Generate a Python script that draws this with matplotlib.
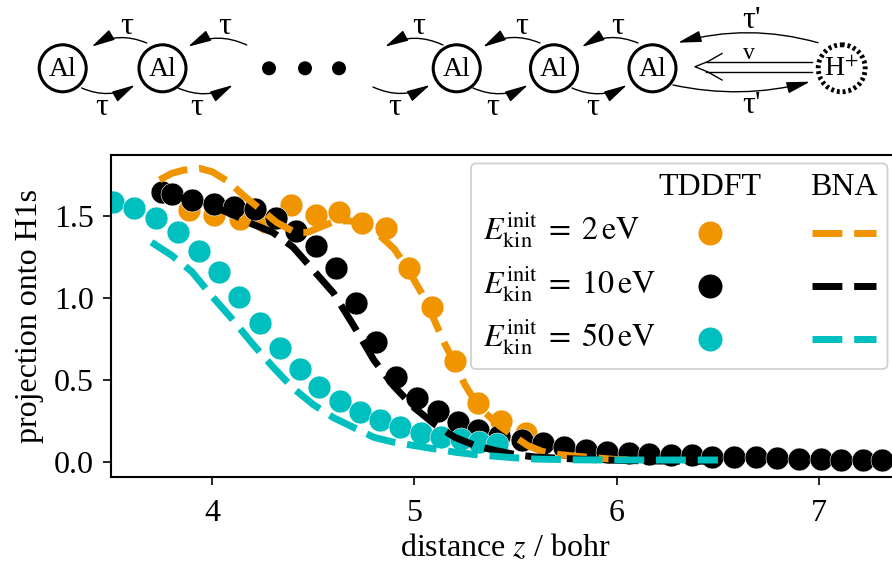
import matplotlib
matplotlib.use("Agg")
import matplotlib.pyplot as plt
from matplotlib.patches import Circle, FancyArrowPatch, FancyBboxPatch

plt.rcParams['font.family'] = ['Liberation Serif', 'DejaVu Serif']
plt.rcParams['mathtext.fontset'] = 'stix'
plt.rcParams['font.size'] = 23

ORANGE = '#f09500'
BLACK = 'black'
CYAN = '#00bfbf'

# TDDFT projection onto H1s, one array per initial kinetic energy
z_tddft_2 = [3.886, 4.01, 4.14, 4.265, 4.389, 4.513, 4.628, 4.743, 4.859, 4.974,
             5.086, 5.201, 5.316, 5.43, 5.55]
p_tddft_2 = [1.537, 1.506, 1.482, 1.465, 1.567, 1.506, 1.526, 1.455, 1.425, 1.181,
             0.948, 0.613, 0.358, 0.25, 0.175]

z_tddft_10 = [3.75, 3.80, 3.90, 4.01, 4.11, 4.21, 4.315, 4.414, 4.513, 4.611,
              4.71, 4.809, 4.908, 5.015, 5.114, 5.216, 5.315, 5.42, 5.53, 5.633,
              5.74, 5.847, 5.954, 6.061, 6.16, 6.267, 6.374, 6.473, 6.58, 6.688,
              6.794, 6.90, 7.01, 7.11, 7.215, 7.313]
p_tddft_10 = [1.645, 1.632, 1.598, 1.571, 1.557, 1.541, 1.486, 1.409, 1.319, 1.181,
              0.968, 0.734, 0.520, 0.388, 0.312, 0.241, 0.195, 0.16, 0.135, 0.116,
              0.093, 0.073, 0.063, 0.053, 0.05, 0.043, 0.04, 0.032, 0.03, 0.028,
              0.023, 0.02, 0.018, 0.015, 0.012, 0.01]

z_tddft_50 = [3.51, 3.615, 3.72, 3.83, 3.935, 4.035, 4.135, 4.235, 4.335, 4.435,
              4.53, 4.63, 4.73, 4.83, 4.93, 5.03, 5.13, 5.23, 5.32, 5.41]
p_tddft_50 = [1.587, 1.547, 1.486, 1.404, 1.288, 1.160, 1.006, 0.849, 0.697, 0.567,
              0.459, 0.374, 0.307, 0.256, 0.212, 0.178, 0.155, 0.140, 0.124, 0.110]

# BNA model curves
z_bna_2 = [3.74, 3.80, 3.86, 3.94, 4.0, 4.08, 4.16, 4.24, 4.32, 4.41, 4.47, 4.55,
           4.61, 4.68, 4.75, 4.82, 4.9, 4.97, 5.04, 5.1, 5.15, 5.2, 5.25, 5.3,
           5.35, 5.42, 5.5, 5.56, 5.63, 5.72, 5.8, 5.9, 6.0, 6.1]
p_bna_2 = [1.72, 1.76, 1.78, 1.79, 1.77, 1.71, 1.62, 1.54, 1.46, 1.40, 1.40, 1.44,
           1.47, 1.47, 1.45, 1.39, 1.30, 1.17, 1.02, 0.86, 0.72, 0.60, 0.47, 0.37,
           0.30, 0.22, 0.15, 0.10, 0.065, 0.045, 0.035, 0.025, 0.015, 0.01]

z_bna_10 = [3.8, 3.9, 4.0, 4.1, 4.2, 4.3, 4.4, 4.5, 4.6, 4.7, 4.8, 4.9, 5.0, 5.1,
            5.2, 5.3, 5.4, 5.5, 5.6, 5.8, 6.0, 6.2, 6.5]
p_bna_10 = [1.62, 1.60, 1.56, 1.51, 1.45, 1.40, 1.31, 1.17, 1.03, 0.83, 0.62, 0.46,
            0.33, 0.23, 0.15, 0.10, 0.07, 0.045, 0.03, 0.018, 0.01, 0.006, 0.004]

z_bna_50 = [3.7, 3.8, 3.9, 4.0, 4.1, 4.2, 4.3, 4.4, 4.5, 4.6, 4.7, 4.8, 4.9, 5.0,
            5.1, 5.2, 5.3, 5.4, 5.5, 5.6, 5.8, 6.0, 6.2, 6.5]
p_bna_50 = [1.34, 1.26, 1.16, 1.01, 0.87, 0.72, 0.58, 0.45, 0.35, 0.27, 0.21, 0.15,
            0.12, 0.10, 0.08, 0.06, 0.045, 0.035, 0.025, 0.018, 0.013, 0.012, 0.012,
            0.012]

legend_labels = [r'$E_{\mathrm{kin}}^{\mathrm{init}}\;=\;2\,\mathrm{eV}$',
                 r'$E_{\mathrm{kin}}^{\mathrm{init}}\;=\;10\,\mathrm{eV}$',
                 r'$E_{\mathrm{kin}}^{\mathrm{init}}\;=\;50\,\mathrm{eV}$']
colors = [ORANGE, BLACK, CYAN]

W, H = 892, 569
fig = plt.figure(figsize=(W / 100, H / 100), dpi=100)

# main panel, right edge runs a little past the figure border
ax = fig.add_axes([111 / W, 1 - 477 / H, 789 / W, 322 / H])
marker_kw = dict(ls='none', marker='o', ms=16.5, mec='white', mew=0.4, zorder=2)
line_kw = dict(lw=5, dashes=(4.3, 1.7), zorder=3)

for z, p, c in zip([z_tddft_2, z_tddft_10, z_tddft_50],
                   [p_tddft_2, p_tddft_10, p_tddft_50], colors):
    ax.plot(z, p, color=c, **marker_kw)
for z, p, c in zip([z_bna_2, z_bna_10, z_bna_50],
                   [p_bna_2, p_bna_10, p_bna_50], colors):
    ax.plot(z, p, color=c, **line_kw)

ax.set_xlim(3.5, 7.4)
ax.set_ylim(-0.0915, 1.872)
ax.set_xticks([4, 5, 6, 7])
ax.set_yticks([0.0, 0.5, 1.0, 1.5])
ax.set_yticklabels(['0.0', '0.5', '1.0', '1.5'])
ax.tick_params(direction='out', length=5.5, width=1.2)
ax.tick_params(axis='x', pad=10)
ax.tick_params(axis='y', pad=7)
for s in ax.spines.values():
    s.set_linewidth(1.5)
ax.set_xlabel(r'distance $z$ / bohr', labelpad=4)
ax.set_ylabel('projection onto H1s', labelpad=7)

# overlay in pixel coordinates for the legend table and the chain schematic
ov = fig.add_axes([0, 0, 1, 1], zorder=5)
ov.set_xlim(0, W)
ov.set_ylim(H, 0)
ov.axis('off')

ov.add_patch(FancyBboxPatch((471, 163.5), 416.5, 205.5,
                            boxstyle='round,pad=0,rounding_size=5',
                            fc='white', ec='#cccccc', lw=1.3, alpha=0.9))
ov.text(710, 195, 'TDDFT', ha='center', va='baseline')
ov.text(844, 195, 'BNA', ha='center', va='baseline')
for i, (lab, c) in enumerate(zip(legend_labels, colors)):
    yb = 240 + i * 53.3
    ov.text(483, yb, lab, ha='left', va='baseline')
    ov.plot([710], [yb - 7.5], color=c, marker='o', ms=17.3, mew=0)
    ov.plot([812, 876], [yb - 7.5, yb - 7.5], color=c, lw=5, dashes=(4.3, 1.7),
            solid_capstyle='butt', dash_capstyle='butt')

# chain of Al atoms and the incoming proton
al_x = [62.7, 162.5, 456.7, 554.0, 652.5]
row_y = 68.3
for x in al_x:
    ov.add_patch(Circle((x, row_y), 23.5, fc='white', ec='black', lw=2.2))
    ov.text(x, row_y + 1, 'Al', ha='center', va='center', fontsize=20)
for x in [269, 305, 339]:
    ov.add_patch(Circle((x, row_y), 7, fc='black', ec='none'))
ov.add_patch(Circle((841.7, row_y), 23.5, fc='white', ec='black', lw=3.5,
                    ls=(0, (0.6, 0.6))))
ov.text(841.7, row_y + 1, r'H$^{+}$', ha='center', va='center', fontsize=20)

hop_top = [(146.7, 43, 91.7, 46.7), (246.7, 45, 188, 46.7), (443, 45, 385, 46.7),
           (540, 43, 483, 47), (638, 43, 581.7, 47)]
hop_bot = [(81.7, 88, 135, 85), (178, 88, 233, 85), (373, 87, 430, 85),
           (473, 88, 528, 85), (572, 88, 627, 85)]
tau_top_x = [127, 225, 419, 521.7, 618]
tau_bot_x = [101.7, 197, 395, 493, 593]

arrow_kw = dict(arrowstyle='-|>,head_length=1.1,head_width=0.27',
                mutation_scale=13, lw=1.0, color='black',
                shrinkA=0, shrinkB=0)
for (x0, y0, x1, y1) in hop_top + hop_bot:
    ov.add_patch(FancyArrowPatch((x0, y0), (x1, y1),
                                 connectionstyle='arc3,rad=0.25', **arrow_kw))
for x in tau_top_x:
    ov.text(x, 26, 'τ', ha='center', va='center', fontsize=23)
for x in tau_bot_x:
    ov.text(x, 107, 'τ', ha='center', va='center', fontsize=23)

ov.add_patch(FancyArrowPatch((818, 42.7), (678, 42.7),
                             connectionstyle='arc3,rad=0.14', **arrow_kw))
ov.add_patch(FancyArrowPatch((673, 85), (810, 81.7),
                             connectionstyle='arc3,rad=0.12', **arrow_kw))
ov.text(752, 20, "τ'", ha='center', va='center', fontsize=23)
ov.text(752, 105, "τ'", ha='center', va='center', fontsize=23)
ov.text(749, 53, 'v', ha='center', va='center', fontsize=17)

# double-stroke velocity arrow
ov.plot([706, 812], [61.7, 61.7], color='black', lw=1.0)
ov.plot([706, 812], [71.7, 71.7], color='black', lw=1.0)
ov.plot([722, 708, 695, 708, 722], [53.5, 61.5, 66.7, 72, 80], color='black', lw=1.0)

fig.savefig('out.png', dpi=100)
